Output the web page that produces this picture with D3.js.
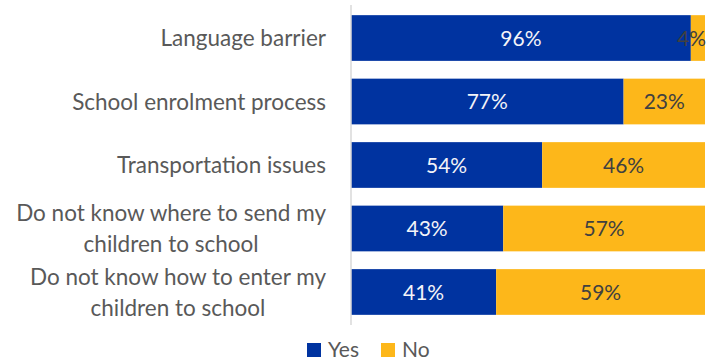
<!DOCTYPE html>
<html>
<head>
<meta charset="utf-8">
<script src="https://cdn.jsdelivr.net/npm/d3@7"></script>
<style>
  html, body { margin: 0; padding: 0; background: #fff; }
  svg { display: block; font-family: Lato, "Open Sans", sans-serif; }
</style>
</head>
<body>
<svg id="chart" width="707" height="363"></svg>
<script>
// Barriers to school access, share of respondents answering Yes / No
const categories = [
  ["Language barrier"],
  ["School enrolment process"],
  ["Transportation issues"],
  ["Do not know where to send my", "children to school"],
  ["Do not know how to enter my", "children to school"]
];
const yesValues = [96, 77, 54, 43, 41];
const noValues  = [4, 23, 46, 57, 59];
const seriesNames = ["Yes", "No"];
const seriesColors = ["#0033A0", "#FDB71A"];
const labelColors = ["#f4f4f8", "#404040"];

const W = 707;
const svg = d3.select("#chart");
const plot = { left: 351, right: 705, top: 5, bottom: 325 };

const x = d3.scaleLinear().domain([0, 100]).range([plot.left, plot.right]);
const y = d3.scaleBand()
  .domain(d3.range(categories.length))
  .range([plot.top, plot.bottom])
  .paddingInner(0.28)
  .paddingOuter(0.16);

const rows = categories.map((c, i) => ({ i, parts: [yesValues[i], noValues[i]] }));

// stacked segments with value labels
rows.forEach(r => {
  let acc = 0;
  r.parts.forEach((v, s) => {
    const x0 = x(acc), x1 = x(acc + v);
    svg.append("rect")
      .attr("x", x0).attr("y", y(r.i))
      .attr("width", x1 - x0).attr("height", y.bandwidth())
      .attr("fill", seriesColors[s]);
    const lbl = svg.append("text")
      .attr("x", (x0 + x1) / 2)
      .attr("y", y(r.i) + y.bandwidth() / 2)
      .attr("dy", "0.36em")
      .attr("text-anchor", "middle")
      .attr("font-size", 21)
      .attr("fill", labelColors[s])
      .text(v + "%");
    // keep narrow-segment labels inside the canvas
    const w = lbl.node().getComputedTextLength();
    if ((x0 + x1) / 2 + w / 2 > W - 1) {
      lbl.attr("text-anchor", "end").attr("x", W - 1);
    }
    acc += v;
  });
});

// category axis line
svg.append("line")
  .attr("x1", plot.left).attr("x2", plot.left)
  .attr("y1", plot.top).attr("y2", plot.bottom)
  .attr("stroke", "#d9d9d9").attr("stroke-width", 1.5);

// category labels: block right-aligned, wrapped lines centred within the block
const labelRight = 326;
rows.forEach(r => {
  const lines = categories[r.i];
  const cy = y(r.i) + y.bandwidth() / 2;
  const lh = 31;
  const t = svg.append("text")
    .attr("text-anchor", "middle")
    .attr("font-size", 22.5)
    .attr("fill", "#595959");
  const spans = lines.map((ln, k) => t.append("tspan")
    .attr("y", cy + (k - (lines.length - 1) / 2) * lh)
    .attr("dy", "0.36em")
    .text(ln));
  const maxW = d3.max(spans, sp => sp.node().getComputedTextLength());
  spans.forEach(sp => sp.attr("x", labelRight - maxW / 2));
});

// legend
const legend = svg.append("g");
const legX = [307, 381];
seriesNames.forEach((n, s) => {
  legend.append("rect")
    .attr("x", legX[s]).attr("y", 343)
    .attr("width", 14).attr("height", 14)
    .attr("fill", seriesColors[s]);
  legend.append("text")
    .attr("x", legX[s] + 21).attr("y", 357)
    .attr("font-size", 21)
    .attr("fill", "#595959")
    .text(n);
});
</script>
</body>
</html>
